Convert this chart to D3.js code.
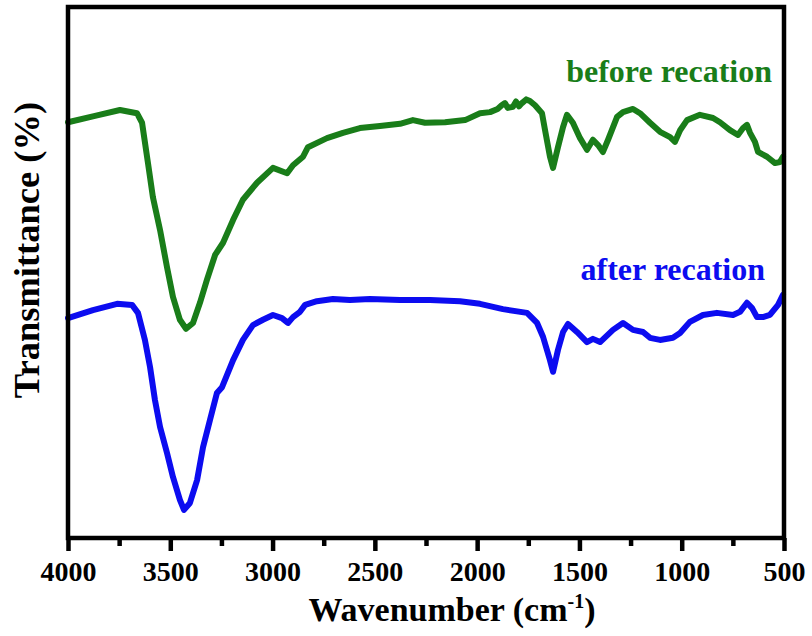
<!DOCTYPE html>
<html>
<head>
<meta charset="utf-8">
<script src="https://cdn.jsdelivr.net/npm/d3@7"></script>
<style>
  html, body { margin: 0; padding: 0; background: #fff; }
  svg { display: block; }
  text { font-family: "Liberation Serif", "Times New Roman", serif; font-weight: bold; }
</style>
</head>
<body>
<svg id="chart" width="812" height="636"></svg>
<script>
// FTIR spectra: wavenumber (cm^-1) and transmittance (arbitrary, offset traces)
const beforeWavenumber = [4000,3868,3746,3663,3638,3609,3585,3550,3516,3487,3453,3423,3389,3355,3321,3281,3242,3193,3145,3076,2998,2929,2900,2851,2827,2734,2656,2573,2475,2377,2314,2255,2157,2059,1986,1937,1900,1880,1864,1850,1825,1810,1795,1781,1760,1742,1717,1683,1668,1644,1629,1605,1580,1561,1532,1497,1463,1434,1409,1385,1360,1316,1287,1238,1204,1155,1106,1057,1033,1008,974,911,847,813,764,725,700,681,666,642,627,583,544,520,505];
const beforeValues = [78.3,79.5,80.6,80.0,78.2,70.6,64.2,58.0,51.0,45.4,41.1,39.4,40.5,44.3,48.6,53.3,55.6,59.9,63.7,66.9,69.7,68.7,70.2,71.8,73.6,75.3,76.3,77.2,77.6,78.0,78.7,78.2,78.3,78.7,80.0,80.2,80.8,81.5,81.9,81.0,81.2,82.2,81.3,81.9,82.6,82.3,81.5,80.0,76.8,71.8,69.7,73.6,77.4,79.7,78.2,75.3,73.1,75.0,74.0,72.7,75.0,79.3,80.2,80.8,80.0,78.2,76.5,75.5,74.6,76.8,78.7,79.7,79.1,78.3,76.8,75.9,77.2,77.8,76.3,74.6,72.7,71.8,70.6,70.8,71.8];

const afterWavenumber = [4000,3878,3760,3687,3658,3624,3599,3575,3550,3516,3487,3453,3433,3404,3369,3340,3306,3272,3247,3193,3145,3096,3047,2998,2954,2925,2900,2866,2841,2783,2705,2622,2524,2377,2230,2084,1986,1874,1756,1707,1678,1644,1629,1605,1580,1556,1512,1463,1434,1399,1336,1287,1238,1189,1155,1106,1043,1008,960,896,828,749,715,681,656,632,603,569,529,505];
const afterValues = [41.4,42.9,44.1,43.9,42.4,37.3,32.2,26.0,20.9,16.0,11.5,7.2,5.3,6.6,10.9,17.1,22.2,27.3,28.4,33.5,37.3,40.1,41.1,42.0,41.4,40.5,41.6,42.6,43.9,44.6,45.0,44.8,45.0,44.8,44.8,44.6,44.1,43.1,42.4,40.5,37.9,33.5,31.3,35.4,38.8,40.3,38.8,36.9,37.5,36.9,39.2,40.5,39.2,38.8,37.7,37.3,37.7,38.6,40.7,42.0,42.4,42.0,42.6,44.3,43.3,41.6,41.6,42.0,43.9,45.8];

const seriesNames = ["before recation", "after recation"];
const seriesColors = ["#197d19", "#0c0cf0"];

const majorTicks = [4000,3500,3000,2500,2000,1500,1000,500];
const minorTicks = [3750,3250,2750,2250,1750,1250,750];

const svg = d3.select("#chart");
const plot = { left: 68, right: 784, top: 7, bottom: 538 };

const x = d3.scaleLinear().domain([4000, 500]).range([plot.left, plot.right]);
const y = d3.scaleLinear().domain([0, 100]).range([plot.bottom, plot.top]);

const line = d3.line()
  .x(d => x(d[0]))
  .y(d => y(d[1]))
  .curve(d3.curveLinear);

const series = [
  d3.zip(beforeWavenumber, beforeValues),
  d3.zip(afterWavenumber, afterValues)
];

// spectra
svg.append("g").selectAll("path")
  .data(series)
  .join("path")
  .attr("d", line)
  .attr("fill", "none")
  .attr("stroke", (d, i) => seriesColors[i])
  .attr("stroke-width", 6)
  .attr("stroke-linejoin", "round")
  .attr("stroke-linecap", "round");

// bottom axis: labelled majors, unlabelled minors
const xAxis = d3.axisBottom(x)
  .tickValues(majorTicks)
  .tickSize(13)
  .tickPadding(10)
  .tickFormat(d3.format("d"));
const gx = svg.append("g")
  .attr("transform", `translate(0,${plot.bottom})`)
  .attr("font-family", null)
  .call(xAxis);
gx.select(".domain").remove();
gx.selectAll(".tick line").attr("stroke", "#000").attr("stroke-width", 4.5);
gx.selectAll(".tick text")
  .attr("fill", "#000")
  .style("font-size", "28px")
  .style("font-family", "'Liberation Serif', 'Times New Roman', serif")
  .style("font-weight", "bold");

const xMinor = d3.axisBottom(x).tickValues(minorTicks).tickSize(8).tickFormat("");
const gm = svg.append("g")
  .attr("transform", `translate(0,${plot.bottom})`)
  .call(xMinor);
gm.select(".domain").remove();
gm.selectAll(".tick line").attr("stroke", "#000").attr("stroke-width", 4.5);

// frame
svg.append("rect")
  .attr("x", plot.left)
  .attr("y", plot.top)
  .attr("width", plot.right - plot.left)
  .attr("height", plot.bottom - plot.top)
  .attr("fill", "none")
  .attr("stroke", "#000")
  .attr("stroke-width", 4.5);

// axis titles
const xTitle = svg.append("text")
  .attr("x", (plot.left + plot.right) / 2 + 26)
  .attr("y", 621)
  .attr("text-anchor", "middle")
  .style("font-size", "34px")
  .attr("fill", "#000");
xTitle.append("tspan").text("Wavenumber (cm");
xTitle.append("tspan").attr("dy", -13).style("font-size", "20px").text("-1");
xTitle.append("tspan").attr("dy", 13).text(")");

svg.append("text")
  .attr("transform", `translate(39,250) rotate(-90)`)
  .attr("text-anchor", "middle")
  .style("font-size", "36.5px")
  .attr("fill", "#000")
  .text("Transmittance (%)");

// series labels
const labelPos = [{ x: 772, y: 82 }, { x: 765, y: 280 }];
svg.append("g").selectAll("text")
  .data(seriesNames)
  .join("text")
  .attr("x", (d, i) => labelPos[i].x)
  .attr("y", (d, i) => labelPos[i].y)
  .attr("text-anchor", "end")
  .style("font-size", "32px")
  .attr("fill", (d, i) => seriesColors[i])
  .text(d => d);
</script>
</body>
</html>
